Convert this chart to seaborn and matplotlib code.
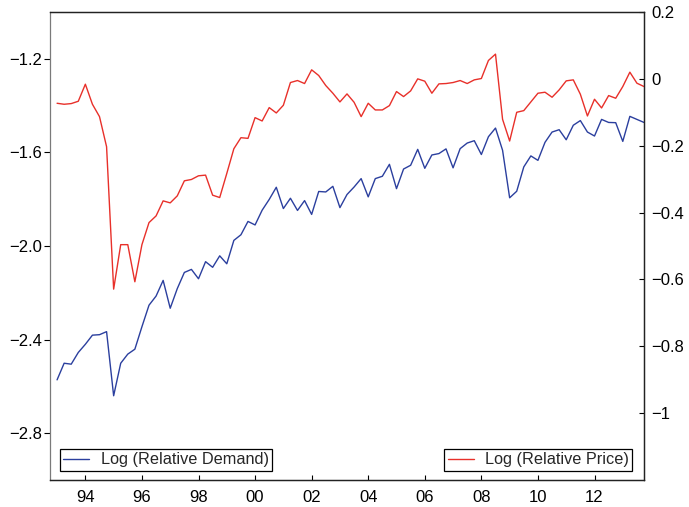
import matplotlib
matplotlib.use("Agg")
import matplotlib.pyplot as plt
from matplotlib.ticker import FuncFormatter, FixedLocator
import numpy as np
import pandas as pd
import seaborn as sns

# Quarterly observations, 1993Q1 - 2013Q4
start_year = 1993
log_relative_demand = [
    -2.572, -2.501, -2.505, -2.455, -2.420, -2.381, -2.379, -2.366,
    -2.640, -2.501, -2.462, -2.441, -2.345, -2.253, -2.214, -2.147,
    -2.266, -2.182, -2.113, -2.100, -2.140, -2.067, -2.091, -2.042,
    -2.076, -1.976, -1.952, -1.895, -1.910, -1.847, -1.801, -1.749,
    -1.840, -1.796, -1.848, -1.806, -1.865, -1.767, -1.769, -1.745,
    -1.836, -1.780, -1.748, -1.712, -1.790, -1.712, -1.702, -1.651,
    -1.755, -1.671, -1.655, -1.587, -1.668, -1.611, -1.605, -1.585,
    -1.666, -1.584, -1.560, -1.550, -1.609, -1.533, -1.496, -1.591,
    -1.794, -1.766, -1.662, -1.615, -1.634, -1.557, -1.513, -1.503,
    -1.546, -1.484, -1.464, -1.513, -1.530, -1.459, -1.472, -1.473,
    -1.553, -1.446, -1.459, -1.472,
]
log_relative_price = [
    -0.073, -0.076, -0.074, -0.067, -0.016, -0.076, -0.113, -0.203,
    -0.629, -0.496, -0.496, -0.607, -0.496, -0.430, -0.410, -0.365,
    -0.371, -0.350, -0.305, -0.301, -0.290, -0.288, -0.348, -0.355,
    -0.283, -0.209, -0.176, -0.178, -0.116, -0.126, -0.086, -0.102,
    -0.079, -0.011, -0.005, -0.014, 0.027, 0.010, -0.020, -0.043,
    -0.069, -0.045, -0.070, -0.113, -0.073, -0.093, -0.093, -0.080,
    -0.038, -0.053, -0.036, 0.000, -0.007, -0.043, -0.015, -0.014,
    -0.011, -0.005, -0.014, -0.003, 0.001, 0.055, 0.074, -0.121,
    -0.186, -0.100, -0.095, -0.069, -0.043, -0.040, -0.055, -0.033,
    -0.006, -0.003, -0.046, -0.111, -0.061, -0.087, -0.050, -0.058,
    -0.023, 0.020, -0.013, -0.023,
]
year_ticks = [1994, 1996, 1998, 2000, 2002, 2004, 2006, 2008, 2010, 2012]
year_labels = ["94", "96", "98", "00", "02", "04", "06", "08", "10", "12"]
left_ticks = [-2.8, -2.4, -2.0, -1.6, -1.2]
right_ticks = [-1.0, -0.8, -0.6, -0.4, -0.2, 0.0, 0.2]

n = len(log_relative_demand)
df = pd.DataFrame({
    "t": start_year + np.arange(n) / 4.0,
    "demand": log_relative_demand,
    "price": log_relative_price,
})

sns.set_style("white")
plt.rcParams["font.family"] = ["Liberation Sans", "DejaVu Sans"]

TICK_FS = 12
LEGEND_FS = 11.7
BLUE = "#2b3f9e"
RED = "#e8302a"

fig = plt.figure(figsize=(6.89, 5.07), dpi=100)
ax = fig.add_axes([50 / 689, 1 - 480 / 507, 594 / 689, 468 / 507])
ax2 = ax.twinx()

sns.lineplot(data=df, x="t", y="demand", ax=ax, color=BLUE, lw=1.0,
             label="Log (Relative Demand)")
sns.lineplot(data=df, x="t", y="price", ax=ax2, color=RED, lw=1.0,
             label="Log (Relative Price)")

ax.set_xlim(1992.75, 2013.75)
ax.set_ylim(-3.0, -1.0)
ax2.set_ylim(-1.2, 0.2)

minus = "\u2212"
ax.xaxis.set_major_locator(FixedLocator(year_ticks))
ax.set_xticklabels(year_labels)
ax.yaxis.set_major_locator(FixedLocator(left_ticks))
ax.yaxis.set_major_formatter(FuncFormatter(lambda v, p: f"{v:.1f}".replace("-", minus)))
ax2.yaxis.set_major_locator(FixedLocator(right_ticks))
ax2.yaxis.set_major_formatter(FuncFormatter(
    lambda v, p: ("0" if abs(v) < 1e-9 else f"{v:g}").replace("-", minus)))

ax.set_xlabel("")
ax.set_ylabel("")
ax2.set_ylabel("")

ax.tick_params(axis="x", direction="in", length=3.6, width=0.8, pad=7.5,
               labelsize=TICK_FS, colors="black", bottom=True)
ax.tick_params(axis="y", direction="out", length=4, width=0.8, pad=1.5,
               labelsize=TICK_FS, colors="black", left=True)
ax2.tick_params(axis="y", direction="in", length=3.5, width=0.8, pad=5,
                labelsize=TICK_FS, colors="black", right=True)

for a in (ax, ax2):
    for side, sp in a.spines.items():
        sp.set_visible(True)
        sp.set_linewidth(0.9)
        sp.set_color("#222222")
ax.spines["left"].set_color("#7a7a7a")
ax2.spines["left"].set_visible(False)

leg_kw = dict(frameon=True, fancybox=False, edgecolor="black", framealpha=1,
              borderaxespad=0, handlelength=1.6, handletextpad=0.7,
              borderpad=0.2, fontsize=LEGEND_FS)
leg1 = ax.legend(loc="lower left", bbox_to_anchor=(0.017, 0.02), **leg_kw)
leg2 = ax2.legend(loc="lower right", bbox_to_anchor=(0.98, 0.02), **leg_kw)
for lg in (leg1, leg2):
    lg.get_frame().set_linewidth(0.9)

fig.savefig("out.png", dpi=100)
